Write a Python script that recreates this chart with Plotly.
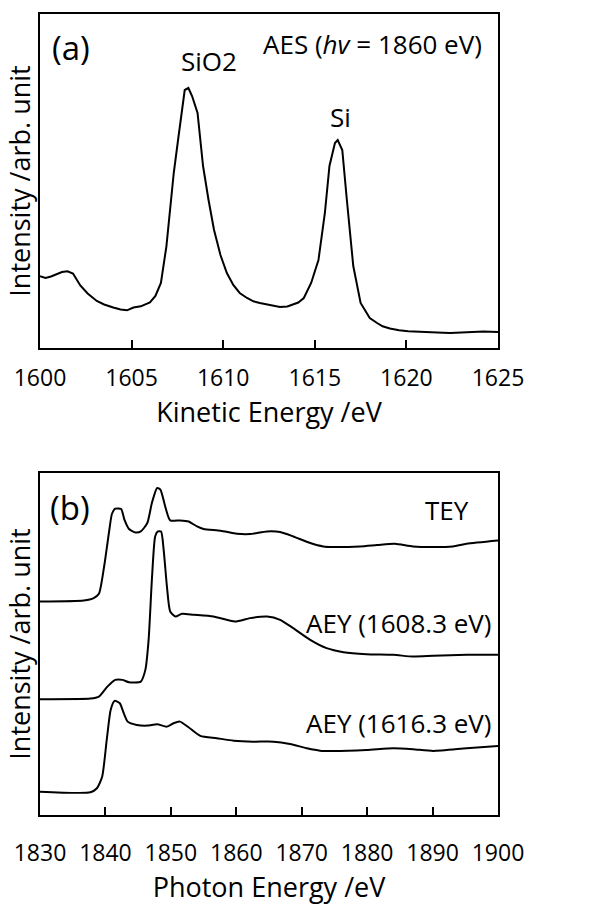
import plotly.graph_objects as go

# ---------------- Panel (a): AES spectrum ----------------
ke_energy = [1600.0, 1600.3, 1600.6, 1600.9, 1601.2, 1601.5, 1601.8, 1602.2, 1602.6, 1603.1,
             1603.5, 1604.0, 1604.4, 1604.75, 1605.1, 1605.5, 1606.0, 1606.3, 1606.6, 1606.9,
             1607.1, 1607.3, 1607.55, 1607.75, 1607.9, 1608.1, 1608.3, 1608.6, 1608.9, 1609.2,
             1609.5, 1609.85, 1610.2, 1610.55, 1610.9, 1611.3, 1611.65, 1612.0, 1612.4, 1612.75,
             1613.1, 1613.5, 1613.8, 1614.1, 1614.4, 1614.8, 1615.2, 1615.55, 1615.8, 1616.1,
             1616.25, 1616.5, 1616.75, 1617.1, 1617.5, 1618.0, 1618.4, 1618.7, 1619.1, 1619.6,
             1620.1, 1620.55, 1621.0, 1621.45, 1622.0, 1622.4, 1623.0, 1623.6, 1624.2, 1625.0]
ke_intensity = [71.7, 70.0, 71.5, 73.5, 76.0, 76.7, 74.5, 62.5, 54.5, 47.0,
                43.5, 40.5, 38.5, 37.7, 40.5, 41.7, 45.7, 52.0, 65.0, 101.7,
                140.0, 175.0, 210.0, 238.0, 258.0, 260.0, 252.0, 235.0, 182.0, 148.0,
                118.0, 93.0, 75.0, 63.0, 55.0, 50.0, 46.7, 45.0, 43.3, 42.0,
                41.0, 41.5, 43.3, 45.5, 50.0, 65.0, 88.0, 135.0, 182.0, 205.0,
                208.0, 198.0, 148.0, 82.0, 45.0, 30.0, 25.0, 21.7, 19.5, 17.7,
                16.8, 16.3, 16.5, 15.7, 15.2, 15.0, 15.5, 16.3, 16.5, 16.0]

# ---------------- Panel (b): XANES spectra ----------------
tey_energy = [1830.0, 1836.7, 1838.2, 1839.0, 1839.8, 1840.6, 1841.0, 1841.5, 1842.4, 1842.9,
              1843.6, 1844.6, 1845.4, 1846.4, 1847.1, 1847.9, 1848.4, 1849.2, 1849.9, 1851.4,
              1852.7, 1854.0, 1855.0, 1857.6, 1860.1, 1862.1, 1864.7, 1866.7, 1868.7, 1871.3,
              1873.3, 1874.8, 1878.9, 1881.5, 1884.2, 1887.0, 1890.1, 1893.1, 1895.2, 1900.0]
tey_intensity = [213.3, 214.3, 216.7, 221.0, 248.3, 285.0, 301.0, 306.0, 305.7, 295.0,
                 285.7, 282.3, 283.3, 291.7, 311.7, 326.7, 325.0, 306.7, 294.3, 294.3,
                 293.3, 288.3, 285.7, 284.0, 281.0, 280.7, 283.3, 282.7, 278.3, 271.7,
                 268.3, 267.7, 268.3, 269.7, 271.0, 268.3, 267.7, 268.3, 271.0, 274.3]

aey1_energy = [1830.0, 1837.7, 1839.0, 1840.3, 1841.5, 1842.6, 1843.6, 1845.4, 1846.1, 1846.6,
               1847.1, 1847.6, 1848.0, 1848.5, 1848.9, 1849.4, 1849.9, 1850.7, 1851.7, 1853.5,
               1856.5, 1859.8, 1862.1, 1864.7, 1866.7, 1868.7, 1871.3, 1873.8, 1876.4, 1879.9,
               1884.0, 1887.0, 1890.1, 1895.2, 1900.0]
aey1_intensity = [115.7, 116.3, 118.3, 128.3, 135.0, 135.0, 132.7, 133.3, 145.0, 175.0,
                  235.0, 278.3, 283.3, 283.3, 265.0, 228.3, 203.3, 198.3, 201.0, 200.0,
                  198.3, 193.3, 196.7, 198.3, 195.0, 186.7, 175.0, 166.7, 162.7, 160.7,
                  160.0, 158.3, 159.0, 160.0, 160.0]

aey2_energy = [1830.0, 1837.7, 1838.7, 1839.5, 1840.2, 1840.8, 1841.4, 1842.2, 1842.8, 1843.4,
               1844.8, 1846.4, 1847.9, 1849.4, 1850.4, 1851.4, 1852.7, 1854.5, 1857.0, 1859.6,
               1862.6, 1865.7, 1868.2, 1870.8, 1872.8, 1874.8, 1879.9, 1884.0, 1887.0, 1890.1,
               1895.2, 1900.0]
aey2_intensity = [23.3, 22.7, 26.7, 38.3, 75.0, 105.0, 114.0, 111.7, 101.7, 93.3,
                  90.0, 89.3, 90.7, 88.3, 91.7, 93.3, 87.7, 79.0, 76.7, 74.3,
                  73.3, 73.3, 71.0, 66.7, 64.3, 64.0, 65.0, 66.7, 65.7, 64.0,
                  66.7, 69.0]

ke_ticks = [1600, 1605, 1610, 1615, 1620, 1625]
pe_ticks = [1830, 1840, 1850, 1860, 1870, 1880, 1890, 1900]

FONT = "Open Sans"
line_style = dict(color="black", width=2)

fig = go.Figure()
fig.add_trace(go.Scatter(x=ke_energy, y=ke_intensity, mode="lines", line=line_style,
                         xaxis="x", yaxis="y", showlegend=False))
for xs, ys in [(tey_energy, tey_intensity), (aey1_energy, aey1_intensity), (aey2_energy, aey2_intensity)]:
    fig.add_trace(go.Scatter(x=xs, y=ys, mode="lines",
                             line=dict(color="black", width=2, shape="spline", smoothing=0.6),
                             xaxis="x2", yaxis="y2", showlegend=False))

axis_common = dict(showline=True, linecolor="black", linewidth=2, mirror=True,
                   showgrid=False, zeroline=False, automargin=False)

TICK = 23
TITLE = 27
ANN = 26

fig.update_layout(
    width=590, height=907,
    margin=dict(l=0, r=0, t=0, b=0),
    paper_bgcolor="white", plot_bgcolor="white",
    font=dict(family=FONT, color="black", size=TICK),
    xaxis=dict(domain=[40/590, 498/590], range=[1600, 1625], anchor="y",
               tickmode="array", tickvals=ke_ticks, ticks="inside", ticklen=8,
               tickwidth=2, tickcolor="black", tickfont=dict(size=TICK),
               ticklabelstandoff=8,
               title=dict(text="Kinetic Energy /eV", font=dict(size=TITLE), standoff=0),
               **axis_common),
    yaxis=dict(domain=[1-348/907, 1-14/907], range=[0, 334], anchor="x",
               showticklabels=False, ticks="",
               title=dict(text="Intensity /arb. unit", font=dict(size=TITLE), standoff=0),
               **axis_common),
    xaxis2=dict(domain=[40/590, 498/590], range=[1830, 1900], anchor="y2",
                tickmode="array", tickvals=pe_ticks, ticks="inside", ticklen=8,
                tickwidth=2, tickcolor="black", tickfont=dict(size=TICK),
                ticklabelstandoff=16,
                title=dict(text="Photon Energy /eV", font=dict(size=TITLE), standoff=3),
                **axis_common),
    yaxis2=dict(domain=[1-815/907, 1-473/907], range=[0, 341.7], anchor="x2",
                showticklabels=False, ticks="",
                title=dict(text="Intensity /arb. unit", font=dict(size=TITLE), standoff=0),
                **axis_common),
)

annotations = [
    dict(text="(a)", x=1601.7, y=300, xref="x", yref="y", showarrow=False, font=dict(size=33)),
    dict(text="SiO2", x=1609.2, y=287, xref="x", yref="y", showarrow=False, font=dict(size=ANN)),
    dict(text="Si", x=1616.4, y=231, xref="x", yref="y", showarrow=False, font=dict(size=ANN)),
    dict(text="AES (<i>hv</i> = 1860 eV)", x=1618.15, y=304, xref="x", yref="y",
         showarrow=False, font=dict(size=ANN)),
    dict(text="(b)", x=1834.6, y=307, xref="x2", yref="y2", showarrow=False, font=dict(size=33)),
    dict(text="TEY", x=1892.2, y=305, xref="x2", yref="y2", showarrow=False, font=dict(size=ANN)),
    dict(text="AEY (1608.3 eV)", x=1884.8, y=192, xref="x2", yref="y2", showarrow=False, font=dict(size=ANN)),
    dict(text="AEY (1616.3 eV)", x=1884.8, y=92, xref="x2", yref="y2", showarrow=False, font=dict(size=ANN)),
]
fig.update_layout(annotations=annotations)

fig.write_html("out.html")
